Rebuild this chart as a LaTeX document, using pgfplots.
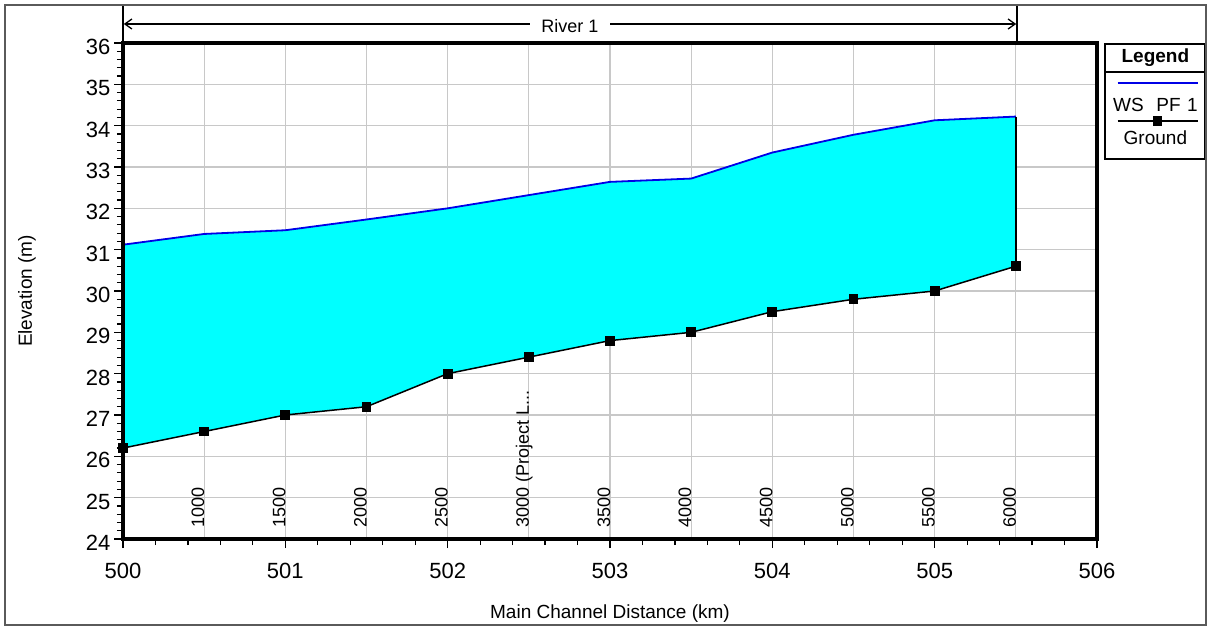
\documentclass[border=0pt]{standalone}
\usepackage{pgfplots}
\usepackage{pgfplotstable}
\pgfplotsset{compat=1.18}
\usetikzlibrary{arrows.meta}
\usepackage{fontspec}
\setmainfont{Liberation Sans}
\definecolor{wsblue}{RGB}{0,0,230}
\definecolor{water}{RGB}{0,255,255}
\definecolor{gridgray}{RGB}{200,200,200}
\definecolor{framegray}{RGB}{90,90,90}

% water surface (WS PF 1)
\pgfplotstableread{
x y
500   31.12
500.5 31.38
501   31.47
501.5 31.73
502   32.00
502.5 32.32
503   32.64
503.5 32.72
504   33.35
504.5 33.78
505   34.13
505.5 34.22
}\wsdata
% ground (channel invert)
\pgfplotstableread{
x y
500   26.2
500.5 26.6
501   27.0
501.5 27.2
502   28.0
502.5 28.4
503   28.8
503.5 29.0
504   29.5
504.5 29.8
505   30.0
505.5 30.6
}\grdata
% water area: water surface downstream, then ground back upstream
\pgfplotstableread{
x y
500   31.12
500.5 31.38
501   31.47
501.5 31.73
502   32.00
502.5 32.32
503   32.64
503.5 32.72
504   33.35
504.5 33.78
505   34.13
505.5 34.22
505.5 30.6
505   30.0
504.5 29.8
504   29.5
503.5 29.0
503   28.8
502.5 28.4
502   28.0
501.5 27.2
501   27.0
500.5 26.6
500   26.2
}\pooldata
% grid segments (separated by nan)
\pgfplotstableread{
x y
500 25
506 25
nan nan
500 26
506 26
nan nan
500 27
506 27
nan nan
500 28
506 28
nan nan
500 29
506 29
nan nan
500 30
506 30
nan nan
500 31
506 31
nan nan
500 32
506 32
nan nan
500 33
506 33
nan nan
500 34
506 34
nan nan
500 35
506 35
nan nan
500.5 24
500.5 36
nan nan
501 24
501 36
nan nan
501.5 24
501.5 36
nan nan
502 24
502 36
nan nan
502.5 24
502.5 36
nan nan
503 24
503 36
nan nan
503.5 24
503.5 36
nan nan
504 24
504 36
nan nan
504.5 24
504.5 36
nan nan
505 24
505 36
nan nan
505.5 24
505.5 36
}\griddata

\begin{document}
\begin{tikzpicture}
\begin{axis}[
  at={(0pt,0pt)}, anchor=south west,
  scale only axis, width=974pt, height=496pt,
  xmin=500, xmax=506, ymin=24, ymax=36,
  xtick={500,501,502,503,504,505,506},
  ytick={24,25,26,27,28,29,30,31,32,33,34,35,36},
  minor x tick num=4, minor y tick num=4,
  tick align=outside, xtick pos=left, ytick pos=left,
  major tick length=9pt, minor tick length=6pt,
  tick style={black, line width=1.2pt},
  axis line style={line width=3.5pt},
  unbounded coords=jump,
  tick label style={font=\fontsize{22}{22}\selectfont},
  xticklabel style={yshift=-12pt},
  yticklabel style={yshift=-4pt},
  /pgf/number format/assume math mode=true,
  /pgf/number format/1000 sep={},
  legend cell align=center,
  legend style={at={(1.00821,0.99798)}, anchor=north west, draw=black,
    line width=1.3pt, inner sep=0pt, outer sep=0pt,
    /tikz/column sep=0pt, /tikz/row sep=0pt,
    font=\fontsize{19}{19}\selectfont,
    cells={anchor=base},
    nodes={text width=98pt, align=center, inner sep=0pt, anchor=base}},
]
\addlegendimage{legend image code/.code={\path (0pt,0pt) rectangle (0.1pt,0.1pt); \draw[overlay, line width=1.3pt] (0pt,-9pt) -- (101pt,-9pt);}}
\addlegendentry[text height=19pt, text depth=9pt]{\textbf{Legend}}
\addlegendimage{legend image code/.code={\path (0pt,0pt) rectangle (0.1pt,0.1pt); \draw[overlay, wsblue, line width=1.8pt] (12pt,29pt) -- (92pt,29pt);}}
\addlegendentry[text height=40pt, text depth=5pt]{WS\ \ PF 1}
\addlegendimage{legend image code/.code={\path (0pt,0pt) rectangle (0.1pt,0.1pt); \draw[overlay, black, line width=1.5pt, mark=square*, mark size=4pt, mark repeat=2, mark phase=2] plot coordinates {(12pt,24pt) (52pt,24pt) (92pt,24pt)};}}
\addlegendentry[text height=28pt, text depth=14pt]{Ground}

% grid lines first
\addplot[gridgray, line width=1.2pt, forget plot] table[x=x, y=y] {\griddata};
% water area on top of the grid
\addplot[fill=water, fill opacity=1, draw=none, forget plot] table[x=x, y=y] {\pooldata} -- cycle;
% lines on top of the fill
\addplot[wsblue, line width=1.8pt, forget plot] table[x=x, y=y] {\wsdata};
\addplot[black, line width=1.5pt, mark=square*, mark size=4.2pt, forget plot] table[x=x, y=y] {\grdata};
\addplot[black, line width=1.5pt, forget plot] coordinates {(505.5,30.6) (505.5,34.22)};

\begin{scope}[every node/.style={rotate=90, anchor=base west, inner sep=0pt, font=\fontsize{18}{18}\selectfont}]
\node at (axis cs:500.5,24.27) {1000};
\node at (axis cs:501,24.27) {1500};
\node at (axis cs:501.5,24.27) {2000};
\node at (axis cs:502,24.27) {2500};
\node at (axis cs:502.5,24.27) {3000 (Project L...};
\node at (axis cs:503,24.27) {3500};
\node at (axis cs:503.5,24.27) {4000};
\node at (axis cs:504,24.27) {4500};
\node at (axis cs:504.5,24.27) {5000};
\node at (axis cs:505,24.27) {5500};
\node at (axis cs:505.5,24.27) {6000};
\end{scope}
\end{axis}
% thick frame of the plot area, on top of the fill
\draw[line width=3.5pt, line join=miter] (0pt,0pt) rectangle (974pt,496pt);
% river annotation
\draw[line width=1.5pt] (0pt,496pt) -- (0pt,534pt);
\draw[line width=1.5pt] (894pt,496pt) -- (894pt,534pt);
\draw[line width=1.3pt, {Straight Barb[length=7pt,width=10pt]}-{Straight Barb[length=7pt,width=10pt]}] (0.8pt,515pt) -- (893.2pt,515pt);
\node[fill=white, inner xsep=11pt, inner ysep=2pt, font=\fontsize{18}{18}\selectfont, anchor=base] at (447pt,506pt) {River 1};
% axis labels
\node[font=\fontsize{19}{19}\selectfont, anchor=base] at (487pt,-79pt) {Main Channel Distance (km)};
\node[font=\fontsize{19}{19}\selectfont, rotate=90, anchor=base] at (-91pt,248pt) {Elevation (m)};
% outer frame
\draw[framegray, line width=1.3pt] (-118pt,-86pt) rectangle (1083pt,534pt);
\path (-123pt,-87pt) rectangle (1086pt,539pt);
\end{tikzpicture}
\end{document}
